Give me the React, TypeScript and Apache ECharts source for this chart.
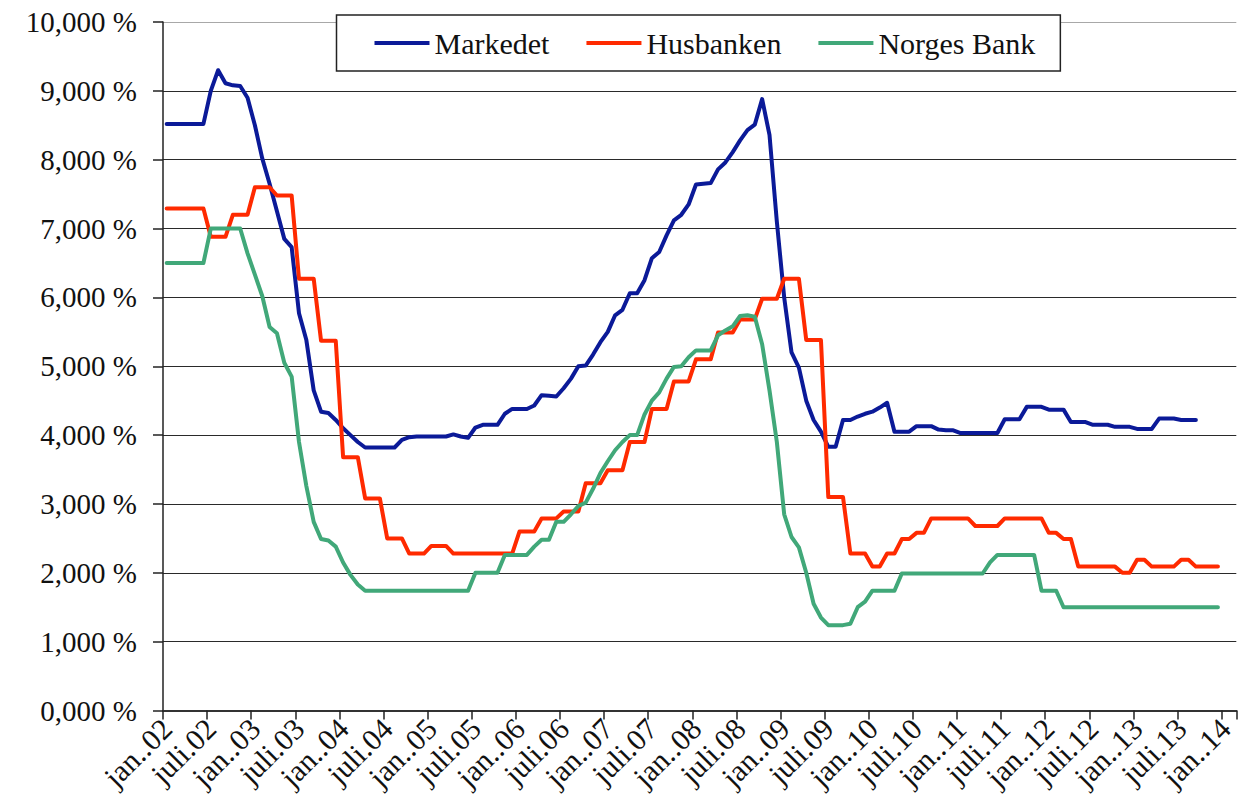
import React, { useEffect, useRef } from "react";
import * as echarts from "echarts";

const YEARS = ["02", "03", "04", "05", "06", "07", "08", "09", "10", "11", "12", "13", "14"];
const MONTHS = ["jan.", "feb.", "mar.", "apr.", "mai", "juni", "juli", "aug.", "sep.", "okt.", "nov.", "des."];
const CATEGORY_COUNT = 146; // jan..02 ... feb..14
const CATEGORIES: string[] = YEARS.flatMap((y) => MONTHS.map((m) => `${m}.${y}`)).slice(0, CATEGORY_COUNT);

const SERIES_NAMES = ["Markedet", "Husbanken", "Norges Bank"];
const SERIES_COLORS = ["#0b1a98", "#ff2a00", "#41a879"];

const Y_TICKS = [0, 1, 2, 3, 4, 5, 6, 7, 8, 9, 10];

const markedet = [
  8.52, 8.52, 8.52, 8.52, 8.52, 8.52, 9.0, 9.3, 9.11, 9.08, 9.07, 8.9,
  8.5, 8.02, 7.65, 7.25, 6.85, 6.73, 5.77, 5.38, 4.65, 4.34, 4.32, 4.22,
  4.1, 4.0, 3.9, 3.82, 3.82, 3.82, 3.82, 3.82, 3.93, 3.97, 3.98, 3.98,
  3.98, 3.98, 3.98, 4.01, 3.98, 3.96, 4.11, 4.15, 4.15, 4.15, 4.31, 4.38,
  4.38, 4.38, 4.43, 4.58, 4.57, 4.56, 4.68, 4.82, 5.0, 5.01, 5.17, 5.35,
  5.5, 5.74, 5.82, 6.06, 6.06, 6.25, 6.57, 6.66, 6.9, 7.12, 7.2, 7.35,
  7.64, 7.65, 7.66, 7.86, 7.96, 8.11, 8.28, 8.43, 8.51, 8.88, 8.36, 7.1,
  6.0, 5.2, 4.98, 4.5, 4.22, 4.05, 3.83, 3.83, 4.22, 4.22, 4.27, 4.31,
  4.34, 4.4, 4.47, 4.05, 4.05, 4.05, 4.13, 4.13, 4.13, 4.08, 4.07, 4.07,
  4.03, 4.03, 4.03, 4.03, 4.03, 4.03, 4.23, 4.23, 4.23, 4.41, 4.41, 4.41,
  4.37, 4.37, 4.37, 4.19, 4.19, 4.19, 4.15, 4.15, 4.15, 4.12, 4.12, 4.12,
  4.09, 4.09, 4.09, 4.24, 4.24, 4.24, 4.22, 4.22, 4.22,
];

const husbanken = [
  7.29, 7.29, 7.29, 7.29, 7.29, 7.29, 6.88, 6.88, 6.88, 7.2, 7.2, 7.2,
  7.6, 7.6, 7.6, 7.48, 7.48, 7.48, 6.27, 6.27, 6.27, 5.37, 5.37, 5.37,
  3.68, 3.68, 3.68, 3.08, 3.08, 3.08, 2.5, 2.5, 2.5, 2.28, 2.28, 2.28,
  2.39, 2.39, 2.39, 2.28, 2.28, 2.28, 2.28, 2.28, 2.28, 2.28, 2.28, 2.28,
  2.6, 2.6, 2.6, 2.79, 2.79, 2.79, 2.89, 2.89, 2.89, 3.3, 3.3, 3.3,
  3.49, 3.49, 3.49, 3.9, 3.9, 3.9, 4.38, 4.38, 4.38, 4.78, 4.78, 4.78,
  5.1, 5.1, 5.1, 5.49, 5.49, 5.49, 5.68, 5.68, 5.68, 5.98, 5.98, 5.98,
  6.27, 6.27, 6.27, 5.38, 5.38, 5.38, 3.1, 3.1, 3.1, 2.28, 2.28, 2.28,
  2.09, 2.09, 2.28, 2.28, 2.49, 2.49, 2.58, 2.58, 2.79, 2.79, 2.79, 2.79,
  2.79, 2.79, 2.68, 2.68, 2.68, 2.68, 2.79, 2.79, 2.79, 2.79, 2.79, 2.79,
  2.58, 2.58, 2.49, 2.49, 2.09, 2.09, 2.09, 2.09, 2.09, 2.09, 2.0, 2.0,
  2.19, 2.19, 2.09, 2.09, 2.09, 2.09, 2.19, 2.19, 2.09, 2.09, 2.09, 2.09,
];

const norgesBank = [
  6.5, 6.5, 6.5, 6.5, 6.5, 6.5, 7.0, 7.0, 7.0, 7.0, 7.0, 6.64,
  6.33, 6.02, 5.57, 5.48, 5.05, 4.85, 3.9, 3.26, 2.74, 2.49, 2.47, 2.38,
  2.15, 1.97, 1.83, 1.74, 1.74, 1.74, 1.74, 1.74, 1.74, 1.74, 1.74, 1.74,
  1.74, 1.74, 1.74, 1.74, 1.74, 1.74, 2.0, 2.0, 2.0, 2.0, 2.26, 2.26,
  2.26, 2.26, 2.38, 2.48, 2.48, 2.74, 2.74, 2.85, 2.97, 3.02, 3.22, 3.45,
  3.62, 3.78, 3.9, 4.0, 4.0, 4.3, 4.5, 4.62, 4.82, 4.99, 5.0, 5.13,
  5.23, 5.23, 5.23, 5.45, 5.52, 5.58, 5.73, 5.74, 5.72, 5.32, 4.65, 3.9,
  2.85, 2.52, 2.37, 2.0, 1.55, 1.35, 1.24, 1.24, 1.24, 1.26, 1.5, 1.58,
  1.74, 1.74, 1.74, 1.74, 1.99, 1.99, 1.99, 1.99, 1.99, 1.99, 1.99, 1.99,
  1.99, 1.99, 1.99, 1.99, 2.15, 2.26, 2.26, 2.26, 2.26, 2.26, 2.26, 1.74,
  1.74, 1.74, 1.5, 1.5, 1.5, 1.5, 1.5, 1.5, 1.5, 1.5, 1.5, 1.5,
  1.5, 1.5, 1.5, 1.5, 1.5, 1.5, 1.5, 1.5, 1.5, 1.5, 1.5, 1.5,
];

const SERIES_DATA = [markedet, husbanken, norgesBank];

const FONT = "'Liberation Serif', 'Times New Roman', serif";

export default function App() {
  const ref = useRef<HTMLDivElement>(null);

  useEffect(() => {
    if (!ref.current) return;
    const chart = echarts.init(ref.current, undefined, { renderer: "svg" });
    const gridColors = Y_TICKS.map((t) => (t === 10 ? "#a8a8a8" : "#2a2a2a"));
    chart.setOption({
      animation: false,
      backgroundColor: "#ffffff",
      textStyle: { fontFamily: FONT },
      grid: { left: 163, right: 0.3, top: 22, bottom: 100.5, containLabel: false },
      legend: {
        left: 336.5,
        top: 15,
        padding: [13, 25, 13, 38],
        itemGap: 37,
        itemWidth: 55,
        itemHeight: 4,
        icon: "rect",
        borderColor: "#222",
        borderWidth: 1.5,
        backgroundColor: "#ffffff",
        textStyle: { fontSize: 30, lineHeight: 30, color: "#111", fontFamily: FONT },
        data: SERIES_NAMES,
      },
      xAxis: {
        type: "category",
        data: CATEGORIES,
        boundaryGap: true,
        axisLine: { show: true, lineStyle: { color: "#333", width: 2 } },
        axisTick: { show: true, interval: 5, alignWithLabel: false, length: 9, lineStyle: { color: "#222", width: 1.5 } },
        axisLabel: { interval: 5, rotate: 45, margin: 13, fontSize: 30, color: "#111", fontFamily: FONT },
        splitLine: { show: false },
      },
      yAxis: {
        type: "value",
        min: 0,
        max: 10,
        interval: 1,
        axisLine: { show: true, lineStyle: { color: "#222", width: 1.5 } },
        axisTick: { show: true, length: 10, lineStyle: { color: "#222", width: 1.5 } },
        axisLabel: {
          margin: 26,
          fontSize: 29,
          color: "#111",
          fontFamily: FONT,
          formatter: (v: number) => v.toFixed(3).replace(".", ",") + " %",
        },
        splitLine: { show: true, lineStyle: { color: gridColors, width: 1 } },
      },
      series: SERIES_NAMES.map((name, i) => ({
        name,
        type: "line",
        data: SERIES_DATA[i],
        symbol: "none",
        showSymbol: false,
        color: SERIES_COLORS[i],
        lineStyle: { width: 4, color: SERIES_COLORS[i], join: "round", cap: "round" },
        emphasis: { disabled: true },
      })),
    });
    return () => chart.dispose();
  }, []);

  return <div ref={ref} style={{ position: "absolute", left: 0, top: 0, width: 1238, height: 811 }} />;
}
